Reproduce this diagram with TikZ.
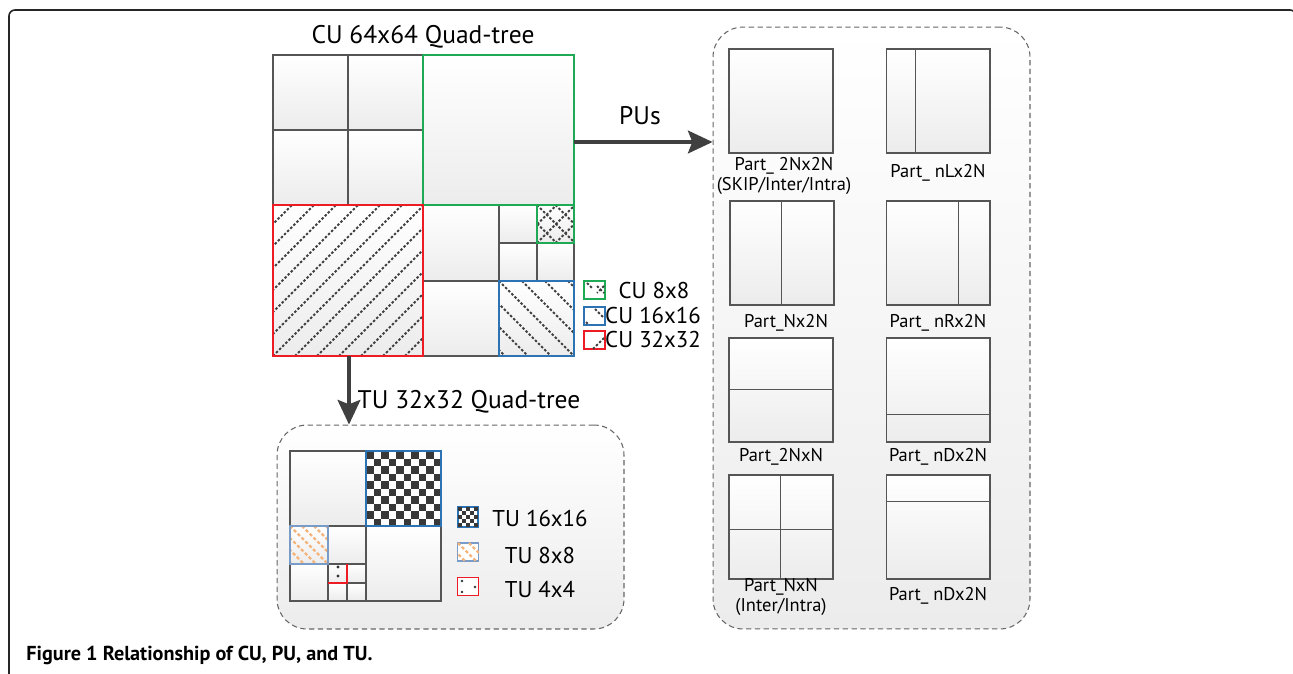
\documentclass[tikz,border=0pt]{standalone}
\usepackage{fontspec}
\setmainfont{PT Sans}
\usetikzlibrary{arrows.meta,positioning}

\definecolor{cellline}{RGB}{85,85,85}
\definecolor{cellbot}{RGB}{236,236,236}
\definecolor{cugreen}{RGB}{30,170,85}
\definecolor{cublue}{RGB}{45,115,180}
\definecolor{cured}{RGB}{237,28,36}
\definecolor{tuorange}{RGB}{243,180,125}
\definecolor{tuframe}{RGB}{120,155,200}

\begin{document}
\begin{tikzpicture}[
    x=0.02cm, y=-0.02cm,
    cell/.style={draw=cellline, line width=0.6pt},
    leaf/.style={top color=white, bottom color=cellbot},
    hatch/.style={draw=black!75, line width=1.1pt, dash pattern=on 1.4pt off 1.1pt},
    dashbox/.style={draw=black!60, dash pattern=on 3pt off 2pt, line width=0.6pt, rounded corners=0.6cm, top color=white, bottom color=cellbot, inner sep=0pt},
    pusq/.style={draw=cellline, line width=0.6pt, minimum size=2.08cm, inner sep=0pt, top color=white, bottom color=cellbot},
    bigarrow/.style={draw=black!75, line width=1.9pt, -{Stealth[length=14pt, width=13pt, inset=2.5pt]}},
    title/.style={font=\fontsize{14.5}{16}\selectfont},
    legend/.style={font=\fontsize{13}{15}\selectfont},
    pulabel/.style={font=\fontsize{10.5}{11}\selectfont, align=center},
    icon/.style={line width=0.8pt, minimum width=0.42cm, minimum height=0.36cm, inner sep=0pt, fill=white},
    orangehatch/.style={draw=tuorange, line width=1.3pt, dash pattern=on 1.8pt off 1.3pt},
  ]
  \useasboundingbox (0,0) rectangle (1293,673);
  \clip (0,0) rectangle (1293,673);

  % outer figure frame
  \draw[black!85, line width=0.9pt, rounded corners=0.12cm] (9,690) -- (9,10) -- (1296,10) -- (1296,690);

  % ---------- CU 64x64 quad-tree ----------
  \node[title] (cu-title) at (423,37) {CU 64x64 Quad-tree};
  \foreach \xa/\ya/\xb/\yb in {273/55/348/130, 348/55/423/130, 273/130/348/205, 348/130/423/205,
      423/55/574/205, 273/205/423/356, 423/205/499/281, 423/281/499/356, 499/281/574/356,
      499/205/537/243, 537/205/574/243, 499/243/537/281, 537/243/574/281}
    \shade[leaf] (\xa,\ya) rectangle (\xb,\yb);

  % CU 32x32 hatch
  \begin{scope}
    \clip (273,205) rectangle (423,356);
    \foreach \k in {-7,...,7}
      \draw[hatch] (273+\k*22,356) -- ++(160,-160);
  \end{scope}
  % CU 16x16 hatch
  \begin{scope}
    \clip (499,281) rectangle (574,356);
    \foreach \k in {-4,...,3}
      \draw[hatch] (499+\k*23,281) -- ++(80,80);
  \end{scope}
  % CU 8x8 cross hatch
  \begin{scope}
    \clip (537,205) rectangle (574,243);
    \foreach \k in {-2,...,2} {
      \draw[hatch] (537+\k*18.5,205) -- ++(40,40);
      \draw[hatch] (537+\k*18.5,243) -- ++(40,-40);
    }
  \end{scope}

  % split lines
  \draw[cell] (348,55) -- (348,205) (273,130) -- (423,130);
  \draw[cell] (499,205) -- (499,356) (423,281) -- (574,281);
  \draw[cell] (537,205) -- (537,281) (499,243) -- (574,243);
  \draw[cell, line width=1pt] (273,55) rectangle (574,356);
  \draw[cugreen, line width=1.1pt] (423,55) rectangle (574,205);
  \draw[cugreen, line width=1pt] (537,205) rectangle (574,243);
  \draw[cublue, line width=1pt] (499,281) rectangle (574,356);
  \draw[cured, line width=1.1pt] (273,205) rectangle (423,356);

  \coordinate (cu-right) at (574,142);
  \coordinate (cu-bottom) at (349,356);

  % CU legend
  \node[icon, draw=cugreen] (leg-cu8) at (594.5,290) {};
  \node[icon, draw=cublue] (leg-cu16) at (594.5,316) {};
  \node[icon, draw=cured] (leg-cu32) at (594.5,340) {};
  \draw[hatch] (587,283) -- (593,289) (597,286) -- (604,293) (604,286) -- (597,293);
  \draw[hatch] (595,309) -- (604,318) (586,322) -- (588,324);
  \draw[hatch] (593,349) -- (604,338);
  \node[legend] (lbl-cu8) at (654,290) {CU 8x8};
  \node[legend] (lbl-cu16) at (653,315) {CU 16x16};
  \node[legend] (lbl-cu32) at (653,339) {CU 32x32};

  % ---------- PU partitions ----------
  \node[dashbox, minimum width=6.34cm, minimum height=12.04cm] (pubox) at (871.5,328) {};
  \node[title] (pu-title) at (640,116) {PUs};
  \draw[bigarrow] (cu-right) -- (cu-right -| pubox.west);

  \foreach \x/\y [count=\n] in {781/101, 938/101, 782/253, 938/253, 781/390, 938/390, 781/527, 938/527}
    \node[pusq] (pu-\n) at (\x,\y) {};

  \draw[cell] (pu-2.north west) ++(30,0) -- ++(0,104);
  \draw[cell] (pu-3.north west) ++(52,0) -- ++(0,104);
  \draw[cell] (pu-4.north west) ++(73,0) -- ++(0,104);
  \draw[cell] (pu-5.north west) ++(0,52) -- ++(104,0);
  \draw[cell] (pu-6.north west) ++(0,77) -- ++(104,0);
  \draw[cell] (pu-7.north west) ++(52,0) -- ++(0,104);
  \draw[cell] (pu-7.north west) ++(0,55) -- ++(104,0);
  \draw[cell] (pu-8.north west) ++(0,27) -- ++(104,0);

  \node[pulabel] (plbl-1) at (784,176) {Part\_ 2Nx2N\\(SKIP/Inter/Intra)};
  \node[pulabel] (plbl-2) at (938,173) {Part\_ nLx2N};
  \node[pulabel] (plbl-3) at (786,323) {Part\_Nx2N};
  \node[pulabel] (plbl-4) at (938,323) {Part\_ nRx2N};
  \node[pulabel] (plbl-5) at (781,457) {Part\_2NxN};
  \node[pulabel] (plbl-6) at (938,457) {Part\_ nDx2N};
  \node[pulabel] (plbl-7) at (781,597) {Part\_NxN\\(Inter/Intra)};
  \node[pulabel] (plbl-8) at (938,596) {Part\_ nDx2N};

  % ---------- TU 32x32 quad-tree ----------
  \node[dashbox, minimum width=6.94cm, minimum height=4.08cm] (tubox) at (450.5,527) {};
  \node[title] (tu-title) at (469,402) {TU 32x32 Quad-tree};
  \draw[bigarrow] (cu-bottom) -- (cu-bottom |- tubox.north);

  \foreach \xa/\ya/\xb/\yb in {290/451/366/526, 366/526/441/601, 290/526/328/564, 328/526/366/564,
      290/564/328/601, 328/564/347/583, 347/564/366/583, 328/583/347/601, 347/583/366/601}
    \shade[leaf] (\xa,\ya) rectangle (\xb,\yb);

  % TU 16x16 checker
  \fill[white] (366,451) rectangle (441,526);
  \foreach \i in {0,...,9}
    \foreach \j in {0,...,9} {
      \ifodd\numexpr\i+\j\relax\else
        \fill[black!78] (366+\i*7.5,451+\j*7.5) rectangle ++(7.5,7.5);
      \fi
    }
  % TU 8x8 hatch
  \begin{scope}
    \clip (290,526) rectangle (328,564);
    \foreach \k in {-4,...,3}
      \draw[orangehatch] (290+\k*12,526) -- ++(40,40);
  \end{scope}

  \draw[cell] (328,526) -- (328,601) (290,564) -- (366,564);
  \draw[cell] (347,564) -- (347,601) (328,583) -- (366,583);
  \draw[cell, line width=0.9pt] (290,451) rectangle (441,601);
  \draw[cell] (366,451) -- (366,601) (290,526) -- (441,526);
  \draw[cublue, line width=1pt] (366,451) rectangle (441,526);
  \draw[tuframe, line width=1pt] (290,526) rectangle (328,564);
  \draw[cured, line width=1pt] (347,564) -- (347,583) -- (328,583);
  \fill[black!80] (338,567) circle (1.6) (338,576) circle (1.6);

  % TU legend
  \node[icon, draw=cublue, minimum width=0.4cm, minimum height=0.4cm] (leg-tu16) at (468,517) {};
  \foreach \i in {0,...,4}
    \foreach \j in {0,...,4} {
      \ifodd\numexpr\i+\j\relax\else
        \fill[black!78] (458+\i*4,507+\j*4) rectangle ++(4,4);
      \fi
    }
  \draw[cublue, line width=0.8pt] (leg-tu16.south west) rectangle (leg-tu16.north east);
  \node[icon, draw=tuframe] (leg-tu8) at (468,552) {};
  \begin{scope}
    \clip (leg-tu8.south west) rectangle (leg-tu8.north east);
    \foreach \k in {-2,...,1}
      \draw[orangehatch] (458+\k*11,543) -- ++(25,25);
  \end{scope}
  \node[icon, draw=cured] (leg-tu4) at (468,586.5) {};
  \fill[black!80] (462,581) circle (1.4) (462,592) circle (1.4) (475,587) circle (1.4);
  \node[legend] (lbl-tu16) at (540,518) {TU 16x16};
  \node[legend] (lbl-tu8) at (540,555) {TU 8x8};
  \node[legend] (lbl-tu4) at (540,589) {TU 4x4};

  % caption
  \node[anchor=west, font=\fontsize{11.5}{14}\selectfont\bfseries, inner sep=0pt] (caption) at (26,655) {Figure 1 Relationship of CU, PU, and TU.};
\end{tikzpicture}
\end{document}
